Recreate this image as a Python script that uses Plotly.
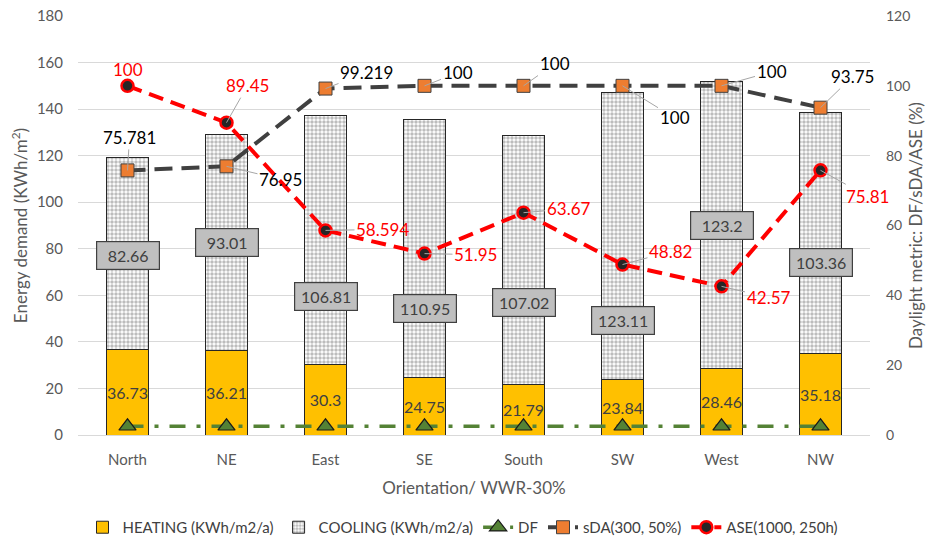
import plotly.graph_objects as go

categories = ["North", "NE", "East", "SE", "South", "SW", "West", "NW"]
heating = [36.73, 36.21, 30.3, 24.75, 21.79, 23.84, 28.46, 35.18]
cooling = [82.66, 93.01, 106.81, 110.95, 107.02, 123.11, 123.2, 103.36]
df_vals = [2.5, 2.5, 2.5, 2.5, 2.5, 2.5, 2.5, 2.5]
sda = [75.781, 76.95, 99.219, 100, 100, 100, 100, 93.75]
ase = [100, 89.45, 58.594, 51.95, 63.67, 48.82, 42.57, 75.81]

# label offsets (pixels) for sDA / ASE leader-line labels
sda_off = [(2, -33), (54, 13), (41, -16), (33, -13), (31, -22), (52, 32), (50, -14), (32, -31)]
ase_off = [(0, -16), (21, -37), (57, -1), (51, 1), (45, -4), (48, -13), (47, 11), (47, 26)]
# vertical pixel shift of the cooling label boxes (manually placed in the original)
cool_shift = [-2, 0, -56, -60, -43, -84, 0, -30]

FONT = "Lato, Carlito, Calibri, sans-serif"
GRAY_TXT = "#595959"

fig = go.Figure()

fig.add_trace(go.Bar(
    x=categories, y=heating, name="HEATING (KWh/m2/a)",
    marker=dict(color="#FFC000", line=dict(color="#262626", width=1)),
    width=0.43,
    text=[f"{v:g}" for v in heating], textposition="inside", textangle=0,
    insidetextanchor="middle", constraintext="none",
    textfont=dict(color="#404040", size=16, family=FONT),
    hoverinfo="skip",
))
fig.add_trace(go.Bar(
    x=categories, y=cooling, name="COOLING (KWh/m2/a)",
    marker=dict(color="white", line=dict(color="#262626", width=1),
                pattern=dict(shape=".", fgcolor="#7a7a7a", bgcolor="white",
                             size=4, solidity=0.6)),
    width=0.43, hoverinfo="skip",
))
fig.add_trace(go.Scatter(
    x=categories, y=df_vals, name="DF", yaxis="y2", mode="lines+markers",
    line=dict(color="#548235", width=3.5, dash="16px,11px,4px,11px"),
    marker=dict(symbol="triangle-up", size=15, color="#548235",
                line=dict(color="#1a1a1a", width=1.2)),
))
fig.add_trace(go.Scatter(
    x=categories, y=sda, name="sDA(300, 50%)", yaxis="y2", mode="lines+markers",
    line=dict(color="#404040", width=4, dash="18px,9px"),
    marker=dict(symbol="square", size=13, color="#ED7D31",
                line=dict(color="#404040", width=1)),
))
fig.add_trace(go.Scatter(
    x=categories, y=ase, name="ASE(1000, 250h)", yaxis="y2", mode="lines+markers",
    line=dict(color="#FF0000", width=4, dash="15px,8px"),
    marker=dict(symbol="circle", size=12, color="#262626",
                line=dict(color="#FF0000", width=2.5)),
))

annotations = []
# cooling labels in gray boxes
for c, h, v, s in zip(categories, heating, cooling, cool_shift):
    annotations.append(dict(
        x=c, y=h + v / 2, xref="x", yref="y", text=f"{v:g}", showarrow=False,
        yshift=s,
        font=dict(color="#404040", size=16, family=FONT),
        bgcolor="#bfbfbf", bordercolor="#404040", borderwidth=1.2, borderpad=4,
        width=54,
    ))
for c, v, (ax, ay) in zip(categories, sda, sda_off):
    annotations.append(dict(
        x=c, y=v, xref="x", yref="y2", text=f"{v:g}", showarrow=True,
        arrowhead=0, arrowwidth=1, arrowcolor="#a6a6a6", ax=ax, ay=ay,
        font=dict(color="#000000", size=17, family=FONT),
    ))
for i, (c, v, (ax, ay)) in enumerate(zip(categories, ase, ase_off)):
    if i == 0:
        annotations.append(dict(
            x=c, y=v, xref="x", yref="y2", text=f"{v:g}", showarrow=False,
            yshift=-ay, font=dict(color="#FF0000", size=17, family=FONT)))
    else:
        annotations.append(dict(
            x=c, y=v, xref="x", yref="y2", text=f"{v:g}", showarrow=True,
            arrowhead=0, arrowwidth=1, arrowcolor="#a6a6a6", ax=ax, ay=ay,
            font=dict(color="#FF0000", size=17, family=FONT),
        ))

fig.update_layout(
    width=926, height=541,
    margin=dict(l=78, r=56, t=16, b=106, autoexpand=False),
    paper_bgcolor="white", plot_bgcolor="white",
    barmode="stack", bargap=0.57,
    font=dict(family=FONT, color=GRAY_TXT, size=15),
    xaxis=dict(
        title=dict(text="Orientation/ WWR-30%", font=dict(size=17, color=GRAY_TXT), standoff=15),
        tickfont=dict(size=15, color=GRAY_TXT), showline=True, linecolor="#d9d9d9",
        ticks="", automargin=False, ticklabelstandoff=11, range=[-0.5, 7.5],
    ),
    yaxis=dict(
        title=dict(text="Energy demand (KWh/m<sup>2</sup>)", font=dict(size=17, color=GRAY_TXT), standoff=4),
        range=[0, 180], dtick=20, gridcolor="#d9d9d9", gridwidth=1,
        zeroline=False, tickfont=dict(size=15, color=GRAY_TXT), automargin=False,
        ticklabelstandoff=14,
    ),
    yaxis2=dict(
        title=dict(text="Daylight metric: DF/sDA/ASE (%)", font=dict(size=17, color=GRAY_TXT), standoff=0),
        range=[0, 120], dtick=20, overlaying="y", side="right", showgrid=False,
        zeroline=False, tickfont=dict(size=14, color=GRAY_TXT), automargin=False,
        ticklabelstandoff=15,
    ),
    legend=dict(orientation="h", xref="container", yref="container",
                x=0.5, xanchor="center", y=0.025, yanchor="middle",
                font=dict(size=15, color="#404040"), traceorder="normal",
                itemwidth=30),
    annotations=annotations,
    showlegend=True,
)

fig.write_html("out.html", config={"displayModeBar": False},
               post_script="document.body.style.margin='0';document.body.style.overflow='hidden';")
